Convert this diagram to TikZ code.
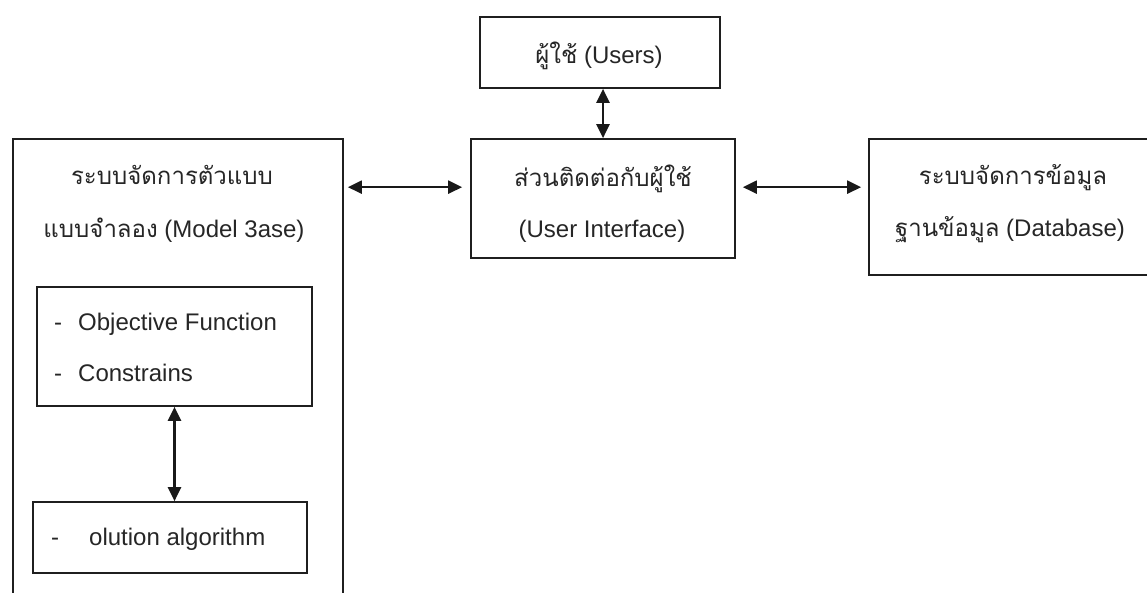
\documentclass[tikz,border=0pt]{standalone}
\usepackage{fontspec}
\setmainfont{Liberation Sans}
\newfontfamily\thaifont[Script=Thai]{Loma}
\usetikzlibrary{arrows.meta,calc}
\begin{document}
\begin{tikzpicture}[x=1pt,y=-1pt,
  box/.style={draw=black!88,line width=1.7pt,rectangle,inner sep=0pt},
  lbl/.style={inner sep=0pt,anchor=base,text=black!85,font=\fontsize{24}{28}\selectfont},
  lbll/.style={lbl,anchor=base west},
  link/.style={draw=black!90,line width=2.3pt,{Triangle[length=14pt,width=13pt]}-{Triangle[length=14pt,width=13pt]}}]
\useasboundingbox (0,0) rectangle (1147,592);
\fill[white] (0,0) rectangle (1147,592);
\clip (0,0) rectangle (1147,592);
% boxes
\node[box,minimum width=240pt,minimum height=71pt] (users) at (600,52.5) {};
\node[box,minimum width=264pt,minimum height=119pt] (ui) at (603,198.5) {};
\node[box,minimum width=281pt,minimum height=136pt] (db) at (1009.5,207) {};
\node[box,minimum width=330pt,minimum height=481pt] (mb) at (178,379.5) {};
\node[box,minimum width=275pt,minimum height=119pt] (obj) at (174.5,346.5) {};
\node[box,minimum width=274pt,minimum height=71pt] (sol) at (170,537.5) {};
% texts
\node[lbl] (usersT) at (599,63) {{\thaifont ผู้ใช้} (Users)};
\node[lbl] (uiA) at (603,186) {\thaifont ส่วนติดต่อกับผู้ใช้};
\node[lbl] (uiB) at (602,237) {(User Interface)};
\node[lbl] (dbA) at (1013,184) {\thaifont ระบบจัดการข้อมูล};
\node[lbl] (dbB) at (1010,236) {{\thaifont ฐานข้อมูล} (Database)};
\node[lbl] (mbA) at (172,184) {\thaifont ระบบจัดการตัวแบบ};
\node[lbl] (mbB) at (174,237) {{\thaifont แบบจำลอง} (Model 3ase)};
\node[lbll] (objD1) at (54,330) {-};
\node[lbll] (objA) at (78,330) {Objective Function};
\node[lbll] (objD2) at (54,381) {-};
\node[lbll] (objB) at (78,381) {Constrains};
\node[lbll] (solD) at (51,545) {-};
\node[lbll] (solA) at (89,545) {olution algorithm};
% connectors
\draw[link] (ui.north |- users.south) -- (ui.north);
\draw[link] ($(mb.north east)+(4,49)$) -- ($(ui.north west)+(-8,49)$);
\draw[link] ($(ui.north east)+(7,49)$) -- ($(db.north west)+(-7,49)$);
\draw[link] (obj.south) -- (obj.south |- sol.north);
\end{tikzpicture}
\end{document}
